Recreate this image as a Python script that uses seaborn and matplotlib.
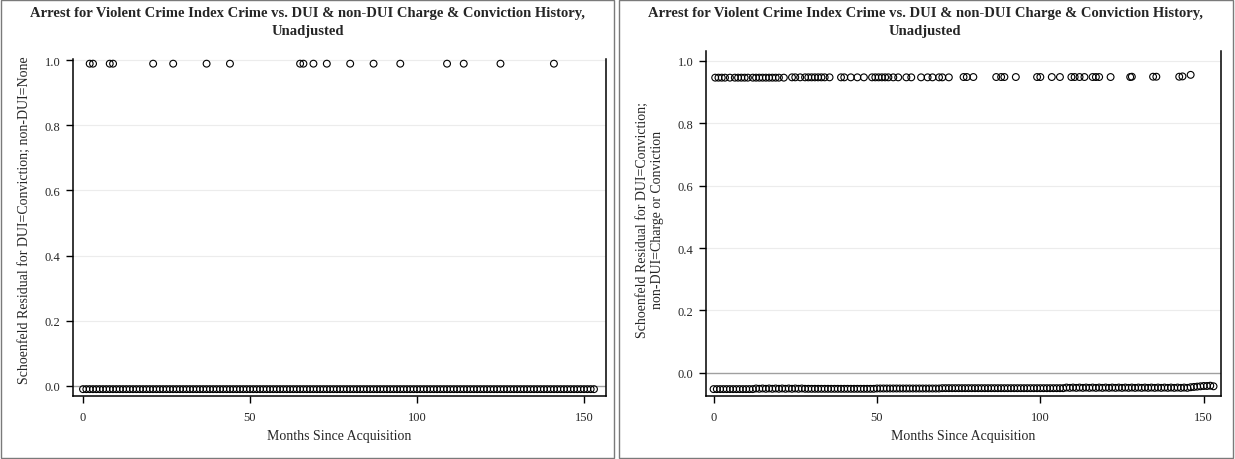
import matplotlib
matplotlib.use('Agg')
import matplotlib.pyplot as plt
import seaborn as sns
import pandas as pd
from matplotlib.patches import Rectangle

# values
left_top_months = [2, 3, 8, 9, 21, 27, 37, 44, 65, 66, 69, 73, 80, 87, 95, 109, 114, 125, 141]
left_top_resid = [0.99, 0.99, 0.99, 0.99, 0.99, 0.99, 0.99, 0.99, 0.99, 0.99,
                  0.99, 0.99, 0.99, 0.99, 0.99, 0.99, 0.99, 0.99, 0.99]

# bottom row: one circle per event month, all at about -0.011
left_low_months = [0, 1, 2, 3, 4, 5, 6, 7, 8, 9, 10, 11, 12, 13, 14, 15, 16, 17, 18, 19,
                   20, 21, 22, 23, 24, 25, 26, 27, 28, 29, 30, 31, 32, 33, 34, 35, 36, 37, 38, 39,
                   40, 41, 42, 43, 44, 45, 46, 47, 48, 49, 50, 51, 52, 53, 54, 55, 56, 57, 58, 59,
                   60, 61, 62, 63, 64, 65, 66, 67, 68, 69, 70, 71, 72, 73, 74, 75, 76, 77, 78, 79,
                   80, 81, 82, 83, 84, 85, 86, 87, 88, 89, 90, 91, 92, 93, 94, 95, 96, 97, 98, 99,
                   100, 101, 102, 103, 104, 105, 106, 107, 108, 109, 110, 111, 112, 113, 114, 115,
                   116, 117, 118, 119, 120, 121, 122, 123, 124, 125, 126, 127, 128, 129, 130, 131,
                   132, 133, 134, 135, 136, 137, 138, 139, 140, 141, 142, 143, 144, 145, 146, 147,
                   148, 149, 150, 151, 152, 153]
left_low_level = -0.011

right_top_months = [0.5, 1.5, 2.5, 3.5, 5, 6.5, 7.5, 8.5, 9.5, 10.5, 12, 13, 14, 15, 16, 17, 18, 19, 20, 21.5,
                    24, 25, 26.5, 28, 29, 30, 31, 32, 33, 34, 35.5,
                    39, 40, 42, 44, 46, 48.5, 49.5, 50.5, 51.5, 52.5, 53.5, 55, 56.5, 59, 60.5,
                    63.5, 65.5, 67, 69, 70, 72, 76.5, 77.5, 79.5, 86.5, 88, 89, 92.5,
                    99, 100, 103.5, 106, 109.5, 110.5, 112, 113.5, 116, 117, 118, 121.5,
                    127.5, 128, 134.5, 135.5, 142.5, 143.5, 146]
right_top_resid = [0.946, 0.946, 0.946, 0.946, 0.946, 0.946, 0.946, 0.946, 0.946, 0.946,
                   0.946, 0.946, 0.946, 0.946, 0.946, 0.946, 0.946, 0.946, 0.946, 0.946,
                   0.947, 0.947, 0.947, 0.947, 0.947, 0.947, 0.947, 0.947, 0.947, 0.947, 0.947,
                   0.947, 0.947, 0.947, 0.947, 0.947, 0.947, 0.947, 0.947, 0.947, 0.947,
                   0.947, 0.947, 0.947, 0.947, 0.947, 0.947, 0.947, 0.947, 0.947, 0.947, 0.947,
                   0.948, 0.948, 0.948, 0.948, 0.948, 0.948, 0.948, 0.948, 0.948, 0.948, 0.948,
                   0.948, 0.948, 0.948, 0.948, 0.948, 0.948, 0.948, 0.948, 0.948, 0.949,
                   0.949, 0.949, 0.949, 0.950, 0.955]

right_low_months = left_low_months
right_low_resid = [-0.052, -0.052, -0.052, -0.052, -0.052, -0.052, -0.052, -0.052, -0.052, -0.052,
                   -0.052, -0.052, -0.052, -0.050, -0.051, -0.050, -0.051, -0.050, -0.051, -0.050,
                   -0.051, -0.050, -0.051, -0.050, -0.051, -0.050, -0.051, -0.050, -0.051, -0.051,
                   -0.051, -0.051, -0.051, -0.051, -0.051, -0.051, -0.051, -0.051, -0.051, -0.051,
                   -0.051, -0.051, -0.051, -0.051, -0.051, -0.051, -0.051, -0.051, -0.051, -0.051,
                   -0.050, -0.050, -0.050, -0.050, -0.050, -0.050, -0.050, -0.050, -0.050, -0.050,
                   -0.050, -0.050, -0.050, -0.050, -0.050, -0.050, -0.050, -0.050, -0.050, -0.050,
                   -0.049, -0.049, -0.049, -0.049, -0.049, -0.049, -0.049, -0.049, -0.049, -0.049,
                   -0.049, -0.049, -0.049, -0.049, -0.049, -0.049, -0.049, -0.049, -0.049, -0.049,
                   -0.049, -0.049, -0.049, -0.049, -0.049, -0.049, -0.049, -0.049, -0.049, -0.049,
                   -0.049, -0.049, -0.049, -0.049, -0.049, -0.049, -0.049, -0.049, -0.047, -0.048,
                   -0.047, -0.048, -0.047, -0.048, -0.047, -0.048, -0.047, -0.048, -0.047, -0.048,
                   -0.047, -0.048, -0.047, -0.048, -0.047, -0.048, -0.047, -0.048, -0.047, -0.048,
                   -0.047, -0.048, -0.047, -0.048, -0.047, -0.048, -0.047, -0.048, -0.047, -0.048,
                   -0.047, -0.048, -0.047, -0.048, -0.047, -0.048, -0.046, -0.045, -0.044, -0.043,
                   -0.042, -0.042, -0.041, -0.043]

title = "Arrest for Violent Crime Index Crime vs. DUI & non-DUI Charge & Conviction History,\nUnadjusted"
left_ylabel = "Schoenfeld Residual for DUI=Conviction; non-DUI=None"
right_ylabel = "Schoenfeld Residual for DUI=Conviction;\nnon-DUI=Charge or Conviction"
xlabel = "Months Since Acquisition"
x_ticks = [0, 50, 100, 150]
y_ticks = [0.0, 0.2, 0.4, 0.6, 0.8, 1.0]

sns.set_theme(style="white")
plt.rcParams['font.family'] = ['Liberation Serif', 'DejaVu Serif']

left_df = pd.concat([
    pd.DataFrame({'month': left_top_months, 'resid': left_top_resid}),
    pd.DataFrame({'month': left_low_months, 'resid': [left_low_level] * len(left_low_months)}),
])
right_df = pd.concat([
    pd.DataFrame({'month': right_top_months, 'resid': right_top_resid}),
    pd.DataFrame({'month': right_low_months, 'resid': right_low_resid}),
])

fig = plt.figure(figsize=(12.35, 4.6), dpi=100)

# panel frames
fig.patches.append(Rectangle((0.001, 0.003), 0.496, 0.994, transform=fig.transFigure,
                             fill=False, edgecolor='#7a7a7a', linewidth=1))
fig.patches.append(Rectangle((0.501, 0.003), 0.497, 0.994, transform=fig.transFigure,
                             fill=False, edgecolor='#7a7a7a', linewidth=1))

ax1 = fig.add_axes([0.0591, 0.137, 0.4316, 0.733])
ax2 = fig.add_axes([0.5717, 0.137, 0.4170, 0.749])

panels = [(ax1, left_df, left_ylabel, (-3.0, 156.6), (-0.032, 1.005), 0.249, -0.079, 0.525),
          (ax2, right_df, right_ylabel, (-2.3, 155.3), (-0.074, 1.03), 0.749, -0.082, 0.515)]

for ax, df, ylab, xlim, ylim, cx, lx, ly in panels:
    for yt in y_ticks[1:]:
        ax.axhline(yt, color='#ececec', linewidth=0.8, zorder=0)
    ax.axhline(0, color='#a0a0a0', linewidth=1.0, zorder=1)
    sns.scatterplot(data=df, x='month', y='resid', ax=ax, marker='o', s=24,
                    facecolor='none', edgecolor='black', linewidth=0.8, zorder=3,
                    legend=False)
    ax.set_xlim(*xlim)
    ax.set_ylim(*ylim)
    ax.set_xticks(x_ticks)
    ax.set_yticks(y_ticks)
    ax.set_yticklabels([f"{v:.1f}" for v in y_ticks])
    ax.tick_params(axis='both', direction='out', length=5, width=1, color='black',
                   labelsize=9, pad=4, left=True, bottom=True)
    ax.tick_params(axis='x', pad=6)
    for side in ['left', 'bottom', 'right']:
        ax.spines[side].set_visible(True)
        ax.spines[side].set_color('black')
        ax.spines[side].set_linewidth(1.1)
    ax.spines['top'].set_visible(False)
    ax.set_xlabel(xlabel, fontsize=10, labelpad=4)
    ax.set_ylabel(ylab, fontsize=10)
    ax.yaxis.set_label_coords(lx, ly)
    fig.text(cx, 0.984, title, ha='center', va='top', fontsize=10.5, fontweight='bold',
             linespacing=1.45)

fig.savefig('out.png', dpi=100)
